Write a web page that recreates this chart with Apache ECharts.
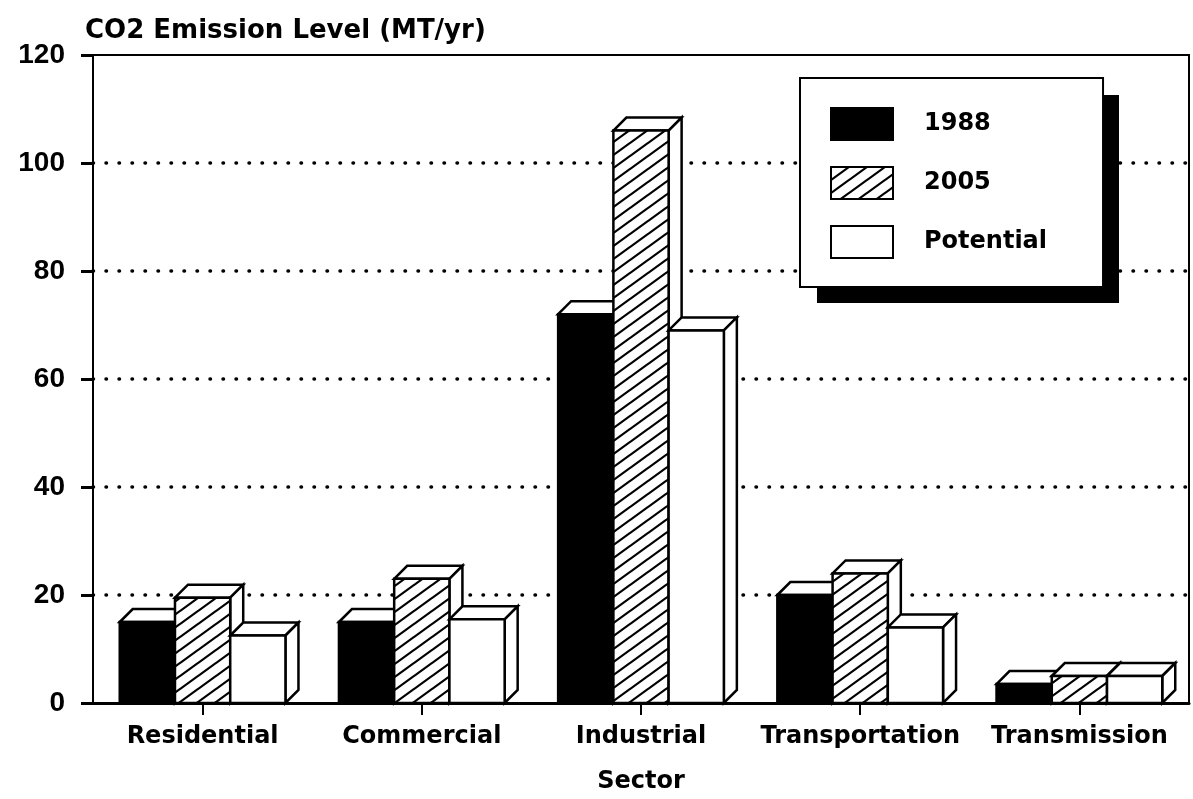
<!DOCTYPE html>
<html>
<head>
<meta charset="utf-8">
<title>CO2 Emission Level by Sector</title>
<script src="https://cdn.jsdelivr.net/npm/echarts@6/dist/echarts.min.js"></script>
<style>
  html, body { margin: 0; padding: 0; background: #fff; }
  #chart { width: 1193px; height: 799px; }
</style>
</head>
<body>
<div id="chart"></div>
<script>
// data
const sectors = ['Residential', 'Commercial', 'Industrial', 'Transportation', 'Transmission']
const years = ['1988', '2005', 'Potential']
const emission1988 = [15, 15, 72, 20, 3.5]
const emission2005 = [19.5, 23, 106, 24, 5]
const emissionPotential = [12.5, 15.5, 69, 14, 5]

const FONT = 'DejaVu Sans'

// diagonal hatch for the 2005 bars (flatter than 45deg, like the original)
function makeHatch() {
  const tw = 18, th = 13
  const c = document.createElement('canvas')
  c.width = tw
  c.height = th
  const ctx = c.getContext('2d')
  ctx.fillStyle = '#fff'
  ctx.fillRect(0, 0, tw, th)
  ctx.strokeStyle = '#000'
  ctx.lineWidth = 2.2
  const k = th / tw
  ctx.beginPath()
  ctx.moveTo(-2, th + 2 * k); ctx.lineTo(tw + 2, -2 * k)
  ctx.moveTo(-2, 2 * k); ctx.lineTo(2, -2 * k)
  ctx.moveTo(tw - 2, th + 2 * k); ctx.lineTo(tw + 2, th - 2 * k)
  ctx.stroke()
  return c
}
const hatch = { image: makeHatch(), repeat: 'repeat' }

const fills = ['#000', hatch, '#fff']

// pseudo 3d box: front face, top and right side
function boxRenderer(idx) {
  return function (params, api) {
    const cat = api.value(0)
    const top = api.coord([cat, api.value(1)])
    const base = api.coord([cat, 0])
    const band = api.size([1, 0])[0]
    const w = band * 0.252
    const d = 13
    const x0 = top[0] - 1.5 * w + idx * w
    const x1 = x0 + w
    const yt = top[1]
    const yb = base[1]
    const edge = { stroke: '#000', lineWidth: 2.5, lineJoin: 'miter' }
    return {
      type: 'group',
      children: [
        {
          type: 'polygon',
          shape: { points: [[x0, yt], [x0 + d, yt - d], [x1 + d, yt - d], [x1, yt]] },
          style: Object.assign({ fill: '#fff' }, edge)
        },
        {
          type: 'polygon',
          shape: { points: [[x1, yt], [x1 + d, yt - d], [x1 + d, yb - d], [x1, yb]] },
          style: Object.assign({ fill: '#fff' }, edge)
        },
        {
          type: 'rect',
          shape: { x: x0, y: yt, width: w, height: yb - yt },
          style: Object.assign({ fill: fills[idx] }, edge)
        }
      ]
    }
  }
}

const seriesValues = [emission1988, emission2005, emissionPotential]

const myChart = echarts.init(document.getElementById('chart'))
const option = {
  animation: false,
  backgroundColor: '#fff',
  title: {
    text: 'CO2 Emission Level (MT/yr)',
    left: 80,
    top: 13,
    textStyle: { fontFamily: FONT, fontWeight: 'bold', fontSize: 26, color: '#000' }
  },
  // hard drop shadow behind the legend box
  graphic: [
    {
      type: 'rect',
      z: 3,
      shape: { x: 817, y: 95, width: 302, height: 208 },
      style: { fill: '#000' }
    }
  ],
  grid: {
    left: 93,
    right: 4,
    top: 55,
    bottom: 92,
    show: true,
    borderColor: '#000',
    borderWidth: 2
  },
  legend: {
    orient: 'vertical',
    left: 800,
    top: 78,
    z: 10,
    selectedMode: false,
    data: years.map((y, i) => ({
      name: y,
      icon: 'rect',
      itemStyle: { color: fills[i], borderColor: '#000', borderWidth: 2 }
    })),
    itemWidth: 62,
    itemHeight: 32,
    itemGap: 25,
    padding: [29, 56, 28, 30],
    backgroundColor: '#fff',
    borderColor: '#000',
    borderWidth: 2,
    textStyle: {
      fontFamily: FONT,
      fontWeight: 'bold',
      fontSize: 24,
      color: '#000',
      padding: [0, 0, 0, 26]
    }
  },
  xAxis: {
    type: 'category',
    data: sectors,
    name: 'Sector',
    nameLocation: 'middle',
    nameGap: 67,
    nameTextStyle: { fontFamily: FONT, fontWeight: 'bold', fontSize: 24, color: '#000' },
    axisLine: { lineStyle: { color: '#000', width: 3 } },
    axisTick: { show: true, interval: 0, alignWithLabel: true, length: 12, lineStyle: { color: '#000', width: 2 } },
    axisLabel: { interval: 0, fontFamily: FONT, fontWeight: 'bold', fontSize: 24, color: '#000', margin: 22 },
    splitLine: { show: false }
  },
  yAxis: {
    type: 'value',
    min: 0,
    max: 120,
    interval: 20,
    axisLine: { show: true, lineStyle: { color: '#000', width: 2 } },
    axisTick: { show: true, length: 12, lineStyle: { color: '#000', width: 3 } },
    axisLabel: { fontFamily: 'Liberation Sans', fontWeight: 'bold', fontSize: 28, color: '#000', margin: 28 },
    splitLine: {
      show: true,
      showMinLine: false,
      showMaxLine: false,
      lineStyle: { color: '#000', width: 3.5, type: [0.5, 12.5], cap: 'round' }
    }
  },
  series: years.map((y, i) => ({
    name: y,
    type: 'custom',
    renderItem: boxRenderer(i),
    itemStyle: { color: fills[i] },
    encode: { x: 0, y: 1 },
    data: seriesValues[i].map((v, k) => [k, v]),
    z: 3 + i
  }))
}

option && myChart.setOption(option)
</script>
</body>
</html>
